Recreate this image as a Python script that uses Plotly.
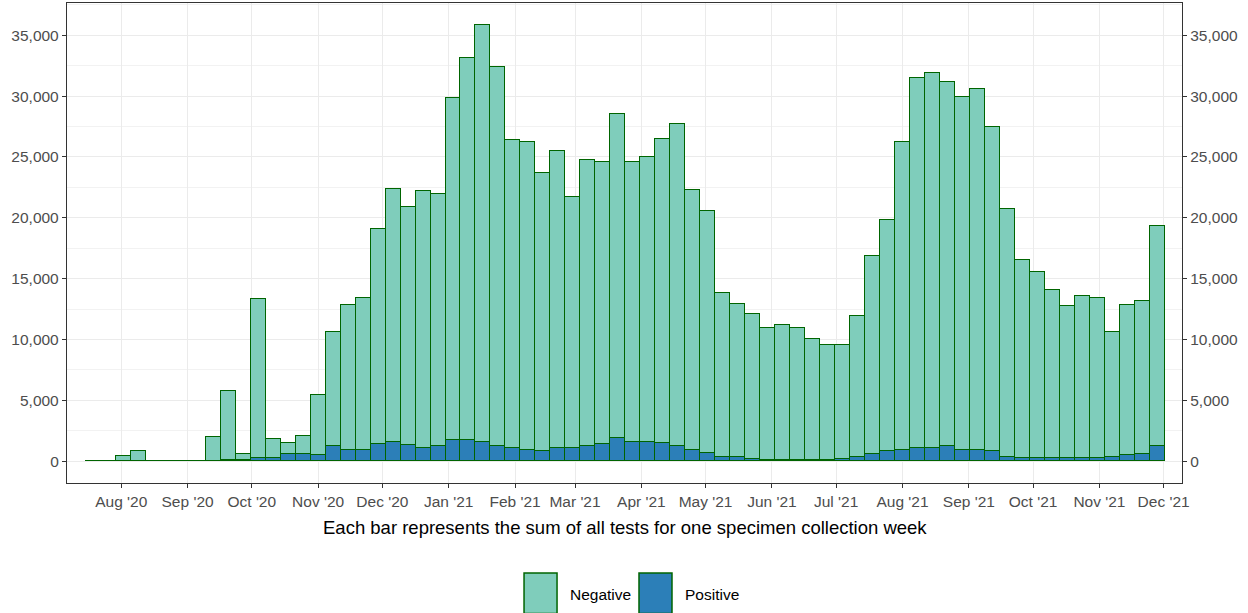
import plotly.graph_objects as go

weeks = [
    "2020-07-19", "2020-07-26", "2020-08-02", "2020-08-09", "2020-08-16", "2020-08-23",
    "2020-08-30", "2020-09-06", "2020-09-13", "2020-09-20", "2020-09-27", "2020-10-04",
    "2020-10-11", "2020-10-18", "2020-10-25", "2020-11-01", "2020-11-08", "2020-11-15",
    "2020-11-22", "2020-11-29", "2020-12-06", "2020-12-13", "2020-12-20", "2020-12-27",
    "2021-01-03", "2021-01-10", "2021-01-17", "2021-01-24", "2021-01-31", "2021-02-07",
    "2021-02-14", "2021-02-21", "2021-02-28", "2021-03-07", "2021-03-14", "2021-03-21",
    "2021-03-28", "2021-04-04", "2021-04-11", "2021-04-18", "2021-04-25", "2021-05-02",
    "2021-05-09", "2021-05-16", "2021-05-23", "2021-05-30", "2021-06-06", "2021-06-13",
    "2021-06-20", "2021-06-27", "2021-07-04", "2021-07-11", "2021-07-18", "2021-07-25",
    "2021-08-01", "2021-08-08", "2021-08-15", "2021-08-22", "2021-08-29", "2021-09-05",
    "2021-09-12", "2021-09-19", "2021-09-26", "2021-10-03", "2021-10-10", "2021-10-17",
    "2021-10-24", "2021-10-31", "2021-11-07", "2021-11-14", "2021-11-21", "2021-11-28",
]

negative = [
    0, 0, 400, 830, 0, 0,
    0, 0, 1980, 5680, 520, 13030,
    1600, 830, 1460, 4950, 9360, 11900,
    12500, 17670, 20800, 19570, 21090, 20730,
    28100, 31430, 34260, 31160, 25270, 25270,
    22840, 24440, 20640, 23540, 23180, 26640,
    23010, 23400, 25020, 26510, 21360, 19900,
    13430, 12580, 11840, 10840, 11130, 10860,
    9970, 9480, 9380, 11610, 16240, 18990,
    25270, 30420, 30830, 29980, 28990, 29590,
    26670, 20340, 16280, 15280, 13800, 12480,
    13330, 13190, 10240, 12330, 12560, 18110,
]

positive = [
    0, 0, 0, 0, 0, 0,
    0, 0, 0, 100, 80, 270,
    240, 630, 630, 470, 1240, 935,
    935, 1430, 1600, 1350, 1100, 1210,
    1710, 1710, 1600, 1240, 1100, 960,
    830, 1050, 1050, 1210, 1430, 1930,
    1600, 1600, 1460, 1210, 940, 690,
    360, 360, 220, 120, 100, 100,
    100, 100, 200, 360, 630, 830,
    960, 1100, 1100, 1210, 960, 960,
    830, 360, 240, 240, 240, 240,
    240, 240, 360, 500, 630, 1240,
]

y_ticks = [0, 5000, 10000, 15000, 20000, 25000, 30000, 35000]
month_ticks = [
    "2020-08-01", "2020-09-01", "2020-10-01", "2020-11-01", "2020-12-01",
    "2021-01-01", "2021-02-01", "2021-03-01", "2021-04-01", "2021-05-01",
    "2021-06-01", "2021-07-01", "2021-08-01", "2021-09-01", "2021-10-01",
    "2021-11-01", "2021-12-01",
]
month_labels = [
    "Aug '20", "Sep '20", "Oct '20", "Nov '20", "Dec '20", "Jan '21", "Feb '21",
    "Mar '21", "Apr '21", "May '21", "Jun '21", "Jul '21", "Aug '21", "Sep '21",
    "Oct '21", "Nov '21", "Dec '21",
]
legend_labels = ["Negative", "Positive"]
caption = "Each bar represents the sum of all tests for one specimen collection week"

NEG = "#7FCDBB"
POS = "#2C7FB8"
EDGE = "#006400"
FONT = "Liberation Sans, Arial, sans-serif"
WEEK_MS = 7 * 24 * 3600 * 1000
Y_RANGE = [-1793, 37653]

fig = go.Figure()
fig.add_trace(go.Bar(
    x=weeks, y=positive, name="Positive", width=WEEK_MS,
    marker=dict(color=POS, line=dict(color=EDGE, width=1.2)),
    showlegend=False,
))
fig.add_trace(go.Bar(
    x=weeks, y=negative, name="Negative", width=WEEK_MS,
    marker=dict(color=NEG, line=dict(color=EDGE, width=1.2)),
    showlegend=False,
))
# invisible anchor so the right-hand duplicate axis is drawn
fig.add_trace(go.Scatter(
    x=[weeks[0]], y=[0], yaxis="y2", mode="markers",
    marker=dict(opacity=0), showlegend=False, hoverinfo="skip",
))

axis_common = dict(
    showline=True, linecolor="#333333", linewidth=1.3,
    ticks="outside", ticklen=4, tickcolor="#333333", tickwidth=1.2,
    tickfont=dict(family=FONT, size=15.5, color="#4D4D4D"),
    zeroline=False, automargin=False, tickangle=0,
)

fig.update_layout(
    width=1248, height=613,
    margin=dict(l=67, r=66, t=3, b=130),
    paper_bgcolor="white", plot_bgcolor="white",
    barmode="stack", bargap=0,
    showlegend=False,
    xaxis=dict(
        type="date",
        range=["2020-07-06 16:00", "2021-12-09 14:00"],
        tickvals=month_ticks, ticktext=month_labels,
        showgrid=True, gridcolor="#EBEBEB", gridwidth=1,
        mirror=True,
        **axis_common,
    ),
    yaxis=dict(
        range=Y_RANGE, tickvals=y_ticks, tickformat=",d",
        showgrid=True, gridcolor="#EBEBEB", gridwidth=1.1,
        minor=dict(dtick=2500, tick0=0, showgrid=True, gridcolor="#F2F2F2", gridwidth=1, ticks=""),
        mirror=True,
        **axis_common,
    ),
    yaxis2=dict(
        range=Y_RANGE, tickvals=y_ticks, tickformat=",d",
        overlaying="y", side="right", showgrid=False,
        **axis_common,
    ),
)

# caption (x-axis title)
fig.add_annotation(
    text=caption, xref="paper", yref="paper", x=0.5, y=-0.092,
    xanchor="center", yanchor="middle", showarrow=False,
    font=dict(family=FONT, size=18.5, color="#000000"),
)

# legend drawn below the panel
legend_fills = [NEG, POS]
legend_key_x = [0.4099, 0.5130]
key_w = 0.0296
for lbl, fill, kx in zip(legend_labels, legend_fills, legend_key_x):
    fig.add_shape(
        type="rect", xref="paper", yref="paper",
        x0=kx, x1=kx + key_w, y0=-0.1875, y1=-0.272,
        fillcolor=fill, line=dict(color=EDGE, width=1.5), layer="above",
    )
    fig.add_annotation(
        text=lbl, xref="paper", yref="paper", x=kx + key_w + 0.0095, y=-0.232,
        xanchor="left", yanchor="middle", showarrow=False,
        font=dict(family=FONT, size=15.5, color="#000000"),
    )

fig.write_html(
    "out.html",
    config={"displayModeBar": False},
    post_script="document.body.style.margin='0';document.body.style.overflow='hidden';",
)
